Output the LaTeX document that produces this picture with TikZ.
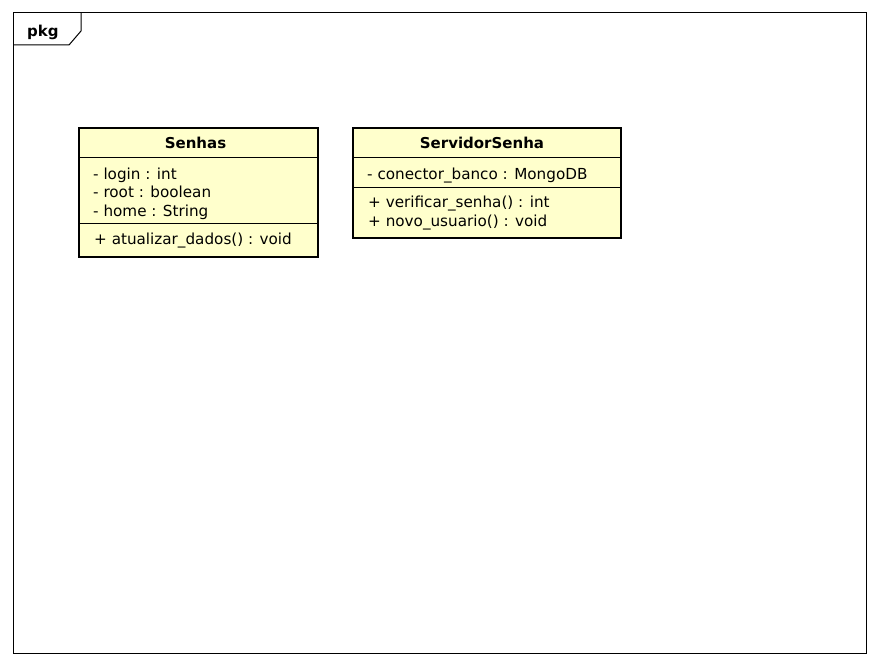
\documentclass[tikz,border=0pt]{standalone}
\usepackage{fontspec}
\setmainfont{DejaVu Sans}
\definecolor{classfill}{RGB}{255,255,204}
\begin{document}
\begin{tikzpicture}[x=1pt,y=-1pt,
  frameline/.style={draw=black,line width=1pt},
  classbox/.style={draw=black,fill=classfill,line width=2.6pt},
  sepline/.style={draw=black,line width=0.9pt},
  title/.style={anchor=base,inner sep=0pt,font=\fontsize{15}{18}\selectfont\bfseries},
  member/.style={anchor=base west,inner sep=0pt,font=\fontsize{15.2}{18}\selectfont}]
\useasboundingbox (0,0) rectangle (880,666);
% package frame with its name tab
\draw[frameline] (13,13) rectangle (866,653);
\draw[frameline] (13,45) -- (69,45) -- (81,31) -- (81,13);
\node[title,anchor=base west] (pkgname) at (27,36.5) {pkg};

% class Senhas
\path[classbox] (79,128) rectangle (318,257);
\node[title] (senhasT) at (195.5,148.5) {Senhas};
\draw[sepline] (79,157) -- (318,157);
\node[member] (s1) at (93,179.5) {- login : int};
\node[member] (s2) at (93,197.5) {- root : boolean};
\node[member] (s3) at (93,216) {- home : String};
\draw[sepline] (79,223) -- (318,223);
\node[member] (s4) at (94,244) {+ atualizar\_dados() : void};

% class ServidorSenha
\path[classbox] (353,128) rectangle (621,238);
\node[title] (servT) at (482,148.5) {ServidorSenha};
\draw[sepline] (353,157) -- (621,157);
\node[member] (v1) at (367,179.5) {- conector\_banco : MongoDB};
\draw[sepline] (353,187) -- (621,187);
\node[member] (v2) at (368,207.5) {+ verificar\_senha() : int};
\node[member] (v3) at (368,226) {+ novo\_usuario() : void};
\end{tikzpicture}
\end{document}
